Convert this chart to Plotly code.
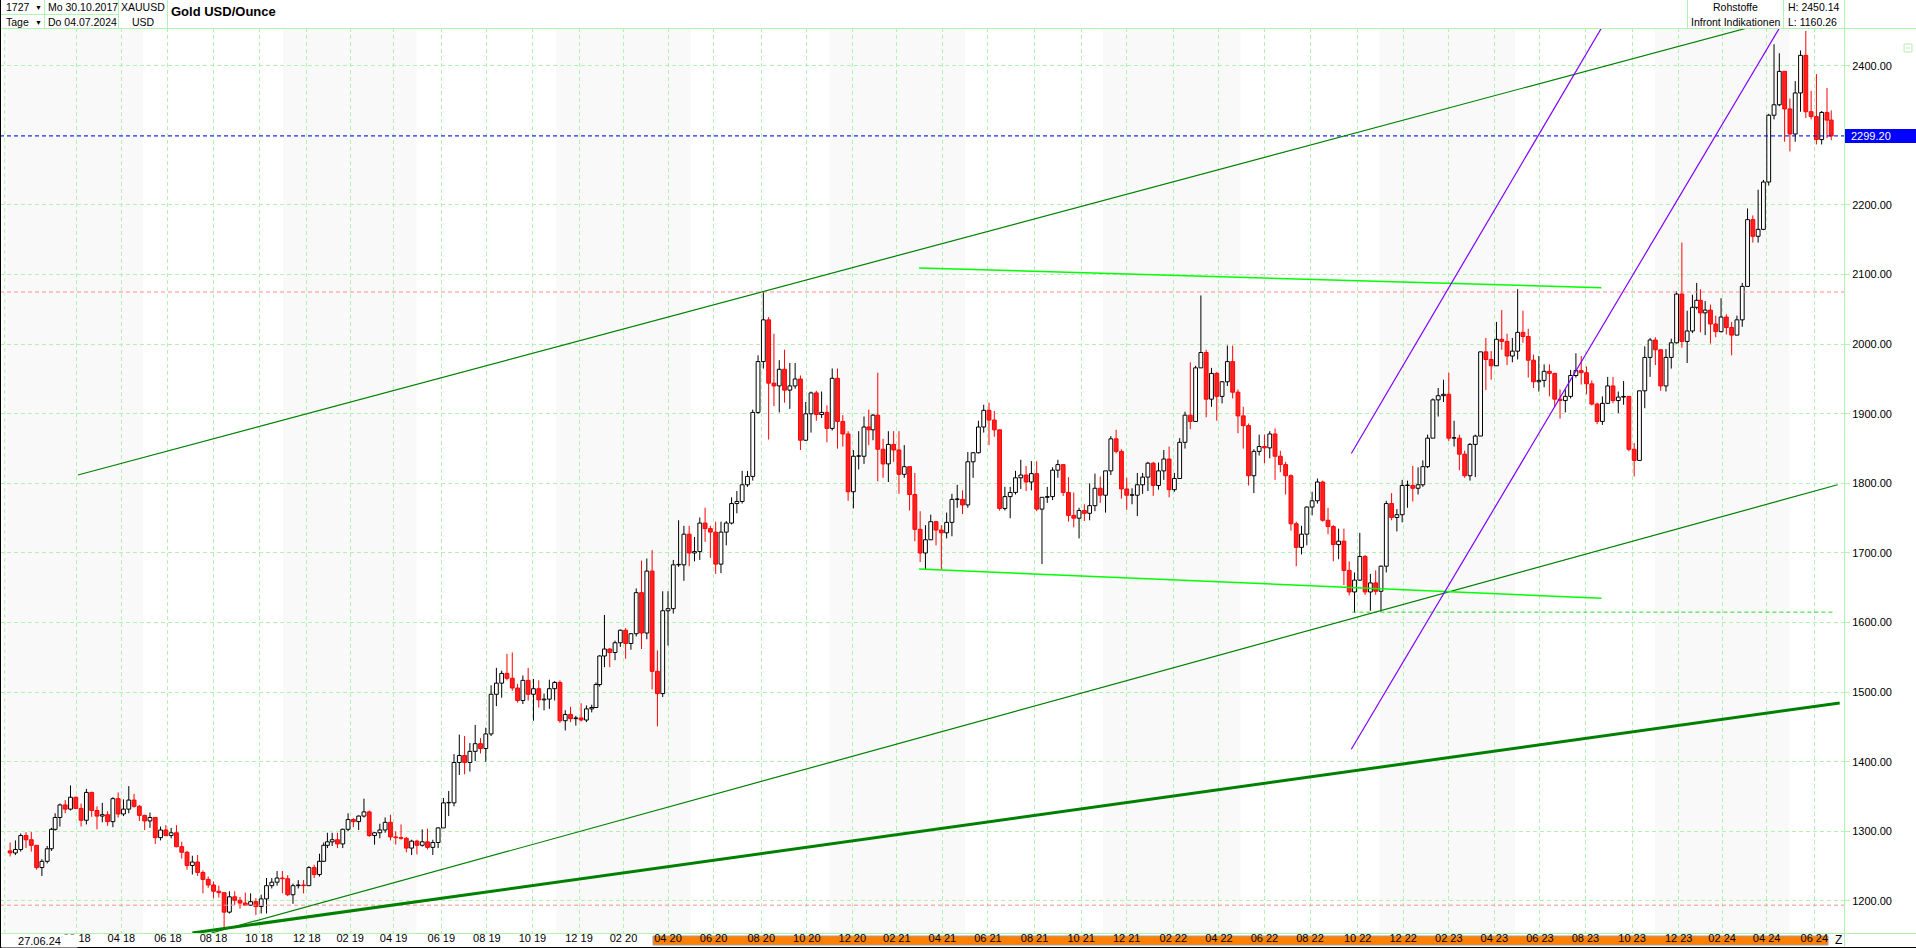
import pandas as pd
import numpy as np
import plotly.graph_objects as go

# ------------------------------------------------------------------
# DATA (weekly OHLC of XAU/USD, weeks starting Monday)
# ------------------------------------------------------------------
first_week = "2017-10-30"
last_session = "2024-06-26"

week_open = [
    1272, 1269, 1274, 1294, 1288, 1280, 1248, 1257, 1275,
    1303, 1320, 1338, 1332, 1349, 1333, 1316, 1356, 1330, 1322, 1324, 1314, 1347, 1325, 1332, 1345, 1336, 1323,
    1315, 1320, 1291, 1302, 1294, 1298, 1278, 1270, 1251, 1256, 1241, 1231, 1223, 1214, 1212, 1184, 1206,
    1201, 1197, 1194, 1199, 1192, 1203, 1222, 1227, 1233, 1232, 1209, 1222, 1223, 1222, 1248, 1238, 1257, 1280,
    1285, 1288, 1282, 1303, 1317, 1314, 1322, 1328, 1294, 1298, 1302, 1313, 1292, 1291, 1290, 1276, 1286,
    1280, 1285, 1277, 1284, 1305, 1341, 1341, 1399, 1409, 1399, 1415, 1426, 1419, 1440, 1497, 1513, 1527,
    1520, 1506, 1488, 1517, 1497, 1505, 1489, 1490, 1505, 1514, 1459, 1468, 1462, 1463, 1460, 1476, 1478, 1511,
    1552, 1562, 1557, 1571, 1589, 1570, 1584, 1643, 1585, 1674, 1530, 1498, 1617, 1620, 1683, 1683, 1727,
    1700, 1702, 1743, 1735, 1730, 1684, 1730, 1743, 1771, 1774, 1798, 1810, 1902, 1975, 2035, 1944, 1940, 1964,
    1934, 1940, 1950, 1862, 1900, 1930, 1899, 1902, 1879, 1951, 1889, 1871, 1788, 1839, 1839, 1881, 1877,
    1898, 1849, 1828, 1856, 1848, 1813, 1824, 1784, 1734, 1700, 1719, 1745, 1733, 1729, 1744, 1777, 1777,
    1769, 1831, 1844, 1881, 1905, 1891, 1877, 1764, 1781, 1787, 1808, 1812, 1802, 1814, 1763, 1780, 1781, 1819,
    1827, 1787, 1754, 1750, 1761, 1757, 1768, 1793, 1783, 1818, 1864, 1846, 1792, 1783, 1783, 1798, 1809,
    1829, 1797, 1818, 1835, 1791, 1807, 1859, 1898, 1889, 1966, 1988, 1921, 1958, 1925, 1946, 1975, 1931,
    1897, 1883, 1811, 1846, 1853, 1851, 1871, 1839, 1827, 1811, 1742, 1708, 1727, 1766, 1775, 1802, 1747, 1738,
    1712, 1717, 1675, 1644, 1661, 1695, 1644, 1657, 1645, 1681, 1771, 1751, 1755, 1797, 1797, 1793, 1798,
    1824, 1865, 1920, 1926, 1928, 1865, 1865, 1842, 1811, 1856, 1868, 1989, 1978, 1969, 2007, 2004, 1983,
    1990, 2017, 2011, 1977, 1946, 1948, 1961, 1958, 1921, 1919, 1925, 1955, 1962, 1959, 1943, 1914, 1889, 1915,
    1940, 1919, 1924, 1925, 1849, 1833, 1933, 1981, 2006, 1992, 1940, 1981, 2002, 2072, 2004, 2019, 2053,
    2063, 2045, 2049, 2029, 2018, 2039, 2024, 2013, 2035, 2083, 2179, 2155, 2165, 2233, 2329, 2344, 2392, 2338,
    2302, 2361, 2415, 2334, 2327, 2294, 2333, 2322,
]
week_high = [
    1284, 1287, 1297, 1299, 1299, 1280, 1260, 1279, 1305,
    1326, 1340, 1345, 1366, 1350, 1340, 1361, 1357, 1336, 1341, 1329, 1349, 1356, 1346, 1365, 1354, 1338, 1324,
    1327, 1320, 1307, 1309, 1305, 1309, 1285, 1272, 1265, 1266, 1244, 1235, 1228, 1222, 1212, 1214, 1214,
    1206, 1212, 1211, 1204, 1209, 1233, 1233, 1243, 1243, 1237, 1225, 1230, 1230, 1250, 1252, 1268, 1284, 1298,
    1298, 1298, 1304, 1326, 1319, 1323, 1347, 1330, 1299, 1311, 1320, 1324, 1300, 1310, 1292, 1288, 1288,
    1303, 1304, 1288, 1306, 1348, 1358, 1411, 1439, 1437, 1427, 1453, 1434, 1449, 1510, 1535, 1531, 1555,
    1557, 1512, 1524, 1535, 1519, 1517, 1498, 1518, 1516, 1517, 1474, 1479, 1466, 1484, 1481, 1482, 1514, 1553,
    1611, 1563, 1574, 1590, 1592, 1585, 1649, 1689, 1692, 1704, 1560, 1645, 1645, 1690, 1747, 1739, 1739,
    1723, 1751, 1765, 1739, 1745, 1745, 1746, 1780, 1789, 1818, 1818, 1906, 1984, 2075, 2039, 2015, 1977, 1992,
    1973, 1973, 1955, 1917, 1932, 1933, 1932, 1912, 1965, 1965, 1898, 1875, 1848, 1875, 1896, 1906, 1900,
    1959, 1864, 1875, 1875, 1875, 1855, 1824, 1815, 1760, 1740, 1755, 1746, 1740, 1758, 1785, 1798, 1790,
    1845, 1845, 1890, 1913, 1916, 1904, 1877, 1795, 1795, 1818, 1834, 1825, 1832, 1832, 1780, 1795, 1823, 1834,
    1827, 1809, 1787, 1765, 1770, 1800, 1814, 1810, 1818, 1868, 1877, 1849, 1808, 1793, 1815, 1815, 1831,
    1831, 1830, 1848, 1853, 1815, 1865, 1903, 1974, 1969, 2070, 1992, 1966, 1960, 1947, 1998, 1998, 1935,
    1910, 1886, 1849, 1870, 1870, 1875, 1879, 1847, 1831, 1813, 1745, 1739, 1767, 1788, 1807, 1804, 1765, 1740,
    1735, 1735, 1688, 1672, 1729, 1697, 1670, 1675, 1682, 1775, 1786, 1763, 1805, 1804, 1825, 1823, 1833,
    1870, 1922, 1937, 1949, 1959, 1890, 1870, 1847, 1858, 1870, 1989, 2009, 1990, 2032, 2049, 2015, 2009,
    2079, 2048, 2022, 1985, 1983, 1971, 1971, 1959, 1935, 1935, 1963, 1987, 1983, 1968, 1948, 1916, 1925, 1953,
    1953, 1932, 1947, 1925, 1858, 1933, 1997, 2009, 2010, 1992, 1993, 2008, 2076, 2146, 2048, 2071, 2088,
    2079, 2062, 2057, 2041, 2066, 2043, 2032, 2041, 2088, 2195, 2185, 2222, 2236, 2331, 2431, 2418, 2392, 2353,
    2378, 2422, 2450.14, 2364, 2388, 2335, 2368, 2336,
]
week_low = [
    1264, 1266, 1271, 1276, 1271, 1245, 1236, 1254, 1272,
    1301, 1307, 1326, 1330, 1332, 1307, 1310, 1321, 1303, 1313, 1308, 1306, 1320, 1322, 1326, 1334, 1315, 1302,
    1305, 1282, 1287, 1293, 1290, 1277, 1261, 1245, 1238, 1236, 1211, 1219, 1204, 1205, 1160.26, 1182, 1194,
    1189, 1193, 1193, 1180, 1182, 1182, 1218, 1222, 1211, 1207, 1196, 1218, 1211, 1222, 1233, 1235, 1256, 1276,
    1279, 1276, 1276, 1300, 1306, 1302, 1320, 1292, 1281, 1290, 1298, 1287, 1281, 1288, 1270, 1266, 1267,
    1278, 1274, 1266, 1276, 1305, 1322, 1336, 1381, 1382, 1386, 1401, 1412, 1400, 1437, 1480, 1492, 1517,
    1502, 1485, 1483, 1488, 1459, 1478, 1474, 1476, 1488, 1456, 1445, 1457, 1452, 1458, 1457, 1471, 1478, 1508,
    1536, 1536, 1546, 1565, 1548, 1561, 1580, 1562, 1576, 1504, 1451, 1493, 1567, 1613, 1680, 1660, 1681,
    1688, 1690, 1716, 1693, 1670, 1671, 1711, 1741, 1757, 1771, 1795, 1804, 1900, 1965, 1863, 1911, 1902, 1916,
    1907, 1936, 1848, 1861, 1873, 1890, 1894, 1859, 1876, 1850, 1853, 1775, 1764, 1820, 1828, 1855, 1862,
    1803, 1808, 1802, 1831, 1785, 1808, 1761, 1717, 1687, 1676, 1719, 1711, 1677, 1721, 1724, 1765, 1756,
    1765, 1808, 1843, 1873, 1855, 1867, 1761, 1761, 1750, 1784, 1792, 1789, 1790, 1760, 1684, 1772, 1776, 1808,
    1782, 1745, 1737, 1721, 1746, 1747, 1760, 1772, 1758, 1812, 1843, 1778, 1762, 1770, 1753, 1785, 1789,
    1782, 1791, 1805, 1780, 1788, 1807, 1850, 1878, 1889, 1966, 1895, 1910, 1890, 1915, 1940, 1922, 1872,
    1850, 1797, 1786, 1840, 1829, 1836, 1805, 1816, 1784, 1732, 1681, 1698, 1711, 1754, 1771, 1745, 1727, 1688,
    1691, 1654, 1639, 1614, 1660, 1640, 1617, 1640, 1616, 1672, 1747, 1731, 1744, 1765, 1774, 1784, 1795,
    1822, 1865, 1896, 1917, 1861, 1853, 1819, 1808, 1804, 1809, 1868, 1934, 1949, 1969, 1992, 1970, 1974,
    1978, 2002, 1952, 1937, 1932, 1938, 1925, 1910, 1893, 1902, 1922, 1952, 1942, 1928, 1912, 1885, 1884, 1914,
    1915, 1901, 1913, 1846, 1810, 1833, 1908, 1953, 1970, 1933, 1932, 1965, 2001, 1995, 1973, 2016, 2050,
    2017, 2013, 2001, 2010, 2017, 2014, 1984, 2013, 2025, 2083, 2146, 2146, 2164, 2228, 2323, 2342, 2291, 2277,
    2291, 2334, 2325, 2323, 2287, 2287, 2296, 2293,
]
week_close = [
    1269, 1274, 1294, 1288, 1280, 1248, 1257, 1275, 1303,
    1320, 1338, 1332, 1349, 1333, 1316, 1356, 1330, 1322, 1324, 1314, 1347, 1325, 1332, 1345, 1336, 1323, 1315,
    1320, 1291, 1302, 1294, 1298, 1278, 1270, 1251, 1256, 1241, 1231, 1223, 1214, 1212, 1184, 1206, 1201,
    1197, 1194, 1199, 1192, 1203, 1222, 1227, 1233, 1232, 1209, 1222, 1223, 1222, 1248, 1238, 1257, 1280, 1285,
    1288, 1282, 1303, 1317, 1314, 1322, 1328, 1294, 1298, 1302, 1313, 1292, 1291, 1290, 1276, 1286, 1280,
    1285, 1277, 1284, 1305, 1341, 1341, 1399, 1409, 1399, 1415, 1426, 1419, 1440, 1497, 1513, 1527, 1520,
    1506, 1488, 1517, 1497, 1505, 1489, 1490, 1505, 1514, 1459, 1468, 1462, 1463, 1460, 1476, 1478, 1511, 1552,
    1562, 1557, 1571, 1589, 1570, 1584, 1643, 1585, 1674, 1530, 1498, 1617, 1620, 1683, 1683, 1727, 1700,
    1702, 1743, 1735, 1730, 1684, 1730, 1743, 1771, 1774, 1798, 1810, 1902, 1975, 2035, 1944, 1940, 1964, 1934,
    1940, 1950, 1862, 1900, 1930, 1899, 1902, 1879, 1951, 1889, 1871, 1788, 1839, 1839, 1881, 1877, 1898,
    1849, 1828, 1856, 1848, 1813, 1824, 1784, 1734, 1700, 1719, 1745, 1733, 1729, 1744, 1777, 1777, 1769,
    1831, 1844, 1881, 1905, 1891, 1877, 1764, 1781, 1787, 1808, 1812, 1802, 1814, 1763, 1780, 1781, 1819, 1827,
    1787, 1754, 1750, 1761, 1757, 1768, 1793, 1783, 1818, 1864, 1846, 1792, 1783, 1783, 1798, 1809, 1829,
    1797, 1818, 1835, 1791, 1807, 1859, 1898, 1889, 1966, 1988, 1921, 1958, 1925, 1946, 1975, 1931, 1897,
    1883, 1811, 1846, 1853, 1851, 1871, 1839, 1827, 1811, 1742, 1708, 1727, 1766, 1775, 1802, 1747, 1738, 1712,
    1717, 1675, 1644, 1661, 1695, 1644, 1657, 1645, 1681, 1771, 1751, 1755, 1797, 1797, 1793, 1798, 1824,
    1865, 1920, 1926, 1928, 1865, 1865, 1842, 1811, 1856, 1868, 1989, 1978, 1969, 2007, 2004, 1983, 1990,
    2017, 2011, 1977, 1946, 1948, 1961, 1958, 1921, 1919, 1925, 1955, 1962, 1959, 1943, 1914, 1889, 1915, 1940,
    1919, 1924, 1925, 1849, 1833, 1933, 1981, 2006, 1992, 1940, 1981, 2002, 2072, 2004, 2019, 2053, 2063,
    2045, 2049, 2029, 2018, 2039, 2024, 2013, 2035, 2083, 2179, 2155, 2165, 2233, 2329, 2344, 2392, 2338, 2302,
    2361, 2415, 2334, 2327, 2294, 2333, 2322, 2299.20,
]

holidays = ["2017-12-25", "2017-12-26", "2018-01-01", "2018-12-25", "2018-12-26",
            "2019-01-01", "2019-12-25", "2019-12-26", "2020-01-01", "2020-12-25",
            "2021-01-01", "2022-12-26", "2023-12-25", "2023-12-26", "2024-01-01"]

price_ticks = [1200, 1300, 1400, 1500, 1600, 1700, 1800, 1900, 2000, 2100, 2200, 2300, 2400]
last_price = 2299.20
hi_price = 2450.14
lo_price = 1160.26
resist_2075 = 2075
support_1194 = 1194
support_1615 = 1615

# drawn trend lines: (date0, price0, date1, price1)
line_upper = ("2018-02-02", 1812, "2024-03-05", 2454)
line_lower_thin = ("2018-07-30", 1154, "2024-07-03", 1798)
line_lower_thick = ("2018-07-04", 1154, "2024-07-05", 1484.5)
line_lime_top = ("2021-03-02", 2109.5, "2023-08-22", 2081)
line_lime_bottom = ("2021-03-02", 1677, "2023-08-22", 1635)
line_purple_a = ("2022-09-23", 1843, "2023-08-22", 2454)
line_purple_b = ("2022-09-23", 1418, "2024-04-17", 2454)
line_1615_span = ("2022-09-26", "2024-07-01")

winter_bands = [("2017-10-01", "2018-05-01"), ("2018-11-01", "2019-05-01"),
                ("2019-11-01", "2020-05-01"), ("2020-11-01", "2021-05-01"),
                ("2021-11-01", "2022-05-01"), ("2022-11-01", "2023-05-01"),
                ("2023-11-01", "2024-05-01")]

# ------------------------------------------------------------------
# trading-day calendar (x axis = trading day number)
# ------------------------------------------------------------------
cal = pd.bdate_range(first_week, "2024-08-30")
cal = cal[~cal.isin(pd.to_datetime(holidays))]
end = pd.Timestamp(last_session)


def pos(d):
    return float(cal.searchsorted(pd.Timestamp(d)))


weeks = pd.date_range(first_week, periods=len(week_close), freq="7D")
wx = []
for ws in weeks:
    mask = (cal >= ws) & (cal <= ws + pd.Timedelta(days=4)) & (cal <= end)
    idx = np.nonzero(mask)[0]
    wx.append(float(idx.mean()))

tickvals, ticktext = [], []
for yr in range(2018, 2025):
    for m in range(2, 13, 2):
        d = pd.Timestamp(yr, m, 1)
        if d > end:
            break
        tickvals.append(pos(d))
        ticktext.append(f"{m:02d} {yr % 100:02d}")

# ------------------------------------------------------------------
FONT = "Liberation Sans, Arial, sans-serif"
GRID = "#b2f2b2"
X0, X1 = -7.55, 1733.05
Y0, Y1 = 1154.0, 2454.3
PW, PH, TOP = 1844.0, 905.0, 28.0

fig = go.Figure()

# candles: bodies + wicks
for up, color, fill in ((True, "#000000", "#ffffff"), (False, "#ff0000", "#ff2020")):
    bx, bbase, bh, wxs, wys = [], [], [], [], []
    for x, o, h, l, c in zip(wx, week_open, week_high, week_low, week_close):
        if (c >= o) != up:
            continue
        top, bot = max(o, c), min(o, c)
        bx.append(x)
        bbase.append(bot)
        bh.append(max(top - bot, 0.6))
        wxs += [x, x, None, x, x, None]
        wys += [h, top, None, bot, l, None]
    fig.add_trace(go.Scatter(x=wxs, y=wys, mode="lines", line=dict(color=color, width=1),
                             hoverinfo="skip", showlegend=False))
    fig.add_trace(go.Bar(x=bx, y=bh, base=bbase, width=3.6,
                         marker=dict(color=fill, line=dict(color=color, width=1)),
                         hoverinfo="skip", showlegend=False))

shapes = []
# winter background bands
for a, b in winter_bands:
    shapes.append(dict(type="rect", xref="x", yref="paper", x0=max(pos(a) - 0.5, X0), x1=pos(b) - 0.5,
                       y0=0, y1=1, fillcolor="#f9f9f9", line=dict(width=0), layer="below"))
# extra first grid line at start
shapes.append(dict(type="line", xref="x", yref="paper", x0=X0 + 4.5, x1=X0 + 4.5, y0=0, y1=1,
                   line=dict(color=GRID, width=1, dash="4px,3px"), layer="below"))

# horizontal reference lines
for p, col in ((resist_2075, "#ff8c8c"), (support_1194, "#ff8c8c"), (last_price, "#0000ff")):
    shapes.append(dict(type="line", xref="paper", yref="y", x0=0, x1=1, y0=p, y1=p,
                       line=dict(color=col, width=1, dash="4px,3px")))
shapes.append(dict(type="line", xref="x", yref="y", x0=pos(line_1615_span[0]), x1=pos(line_1615_span[1]),
                   y0=support_1615, y1=support_1615, line=dict(color="#22dd22", width=1, dash="4px,3px")))


def tline(spec, color, width):
    d0, p0, d1, p1 = spec
    shapes.append(dict(type="line", xref="x", yref="y", x0=pos(d0), y0=p0, x1=pos(d1), y1=p1,
                       line=dict(color=color, width=width)))


tline(line_upper, "#008000", 1.2)
tline(line_lower_thin, "#008000", 1.2)
tline(line_lower_thick, "#008000", 3)
tline(line_lime_top, "#00ff00", 1.5)
tline(line_lime_bottom, "#00ff00", 1.5)
tline(line_purple_a, "#8000ff", 1.2)
tline(line_purple_b, "#8000ff", 1.2)


def ax(px):
    return px / PW


def ay(py):
    return (TOP + PH - py) / PH


def pline(x0, y0, x1, y1, color, width=1):
    shapes.append(dict(type="line", xref="paper", yref="paper", x0=ax(x0), y0=ay(y0), x1=ax(x1), y1=ay(y1),
                       line=dict(color=color, width=width)))


# frame / header lines
pline(0, 28.5, 1916, 28.5, GRID)
pline(0, 933.5, 1916, 933.5, GRID)
pline(1844.5, 0, 1844.5, 948, GRID)
for xv in (44.5, 118.5, 167.5, 1687.5, 1783.5):
    pline(xv, 0, xv, 28, GRID)
pline(0, 14.5, 118, 14.5, GRID)
pline(0.5, 0, 0.5, 948, "#000000")
pline(0, 947.5, 1916, 947.5, "#000000")
# orange date band
shapes.append(dict(type="rect", xref="paper", yref="paper", x0=ax(653), x1=ax(1828), y0=ay(945), y1=ay(936),
                   fillcolor="#ff8000", line=dict(color="#a0a0a0", width=1), layer="below"))
# current price box
shapes.append(dict(type="rect", xref="paper", yref="paper", x0=ax(1845), x1=ax(1916),
                   y0=(last_price - Y0) / (Y1 - Y0) - 7 / PH, y1=(last_price - Y0) / (Y1 - Y0) + 7 / PH,
                   fillcolor="#0000ff", line=dict(width=0)))
# small collapse icon
shapes.append(dict(type="rect", xref="paper", yref="paper", x0=ax(1904), x1=ax(1912), y0=ay(52), y1=ay(44),
                   fillcolor="white", line=dict(color=GRID, width=1)))
pline(1906, 48, 1910, 48, GRID)

ann = []


def text(px, py, s, anchor="left", size=10.5, bold=False, color="#000000", **kw):
    ann.append(dict(x=ax(px), y=ay(py), xref="paper", yref="paper", text=f"<b>{s}</b>" if bold else s,
                    showarrow=False, xanchor=anchor, yanchor="middle",
                    font=dict(family=FONT, size=size, color=color), **kw))


text(4, 7.5, "1727")
text(33, 7.5, "▼", size=7)
text(4, 22, "Tage")
text(33, 22, "▼", size=7)
text(46, 7.5, "Mo 30.10.2017")
text(46, 22, "Do 04.07.2024")
text(143, 7.5, "XAUUSD", anchor="center")
text(143, 22, "USD", anchor="center")
text(169, 11.5, "Gold USD/Ounce", size=13, bold=True)
text(1735, 7.5, "Rohstoffe", anchor="center")
text(1735, 22, "Infront Indikationen", anchor="center")
text(1786, 7.5, f"H: {hi_price:.2f}")
text(1786, 22, f"L: {lo_price:.2f}")
text(1, 940.5, "27.06.24", size=11, bgcolor="white", width=75, borderpad=0)
text(1838, 940, "Z", anchor="center", size=12)
ann.append(dict(x=ax(1849), y=last_price, xref="paper", yref="y", text=f"{last_price:.2f}",
                showarrow=False, xanchor="left", yanchor="middle",
                font=dict(family=FONT, size=11, color="white")))

fig.update_layout(
    width=1916, height=948,
    margin=dict(l=0, r=72, t=28, b=15),
    paper_bgcolor="white", plot_bgcolor="white",
    barmode="overlay", showlegend=False,
    font=dict(family=FONT, size=11, color="#000000"),
    shapes=shapes, annotations=ann,
    xaxis=dict(range=[X0, X1], tickmode="array", tickvals=tickvals, ticktext=ticktext,
               showgrid=True, gridcolor=GRID, gridwidth=1, griddash="4px,3px",
               zeroline=False, showline=False, ticks="", ticklen=0, ticklabelstandoff=-3,
               tickfont=dict(family=FONT, size=11, color="#000000"), fixedrange=True,
               rangeslider=dict(visible=False)),
    yaxis=dict(range=[Y0, Y1], side="right", tickmode="array", tickvals=price_ticks,
               ticktext=[f"{v:.2f}" for v in price_ticks],
               showgrid=True, gridcolor=GRID, gridwidth=1, griddash="4px,3px",
               zeroline=False, showline=False, ticks="outside", ticklen=5, tickcolor=GRID,
               tickfont=dict(family=FONT, size=11, color="#000000"), fixedrange=True),
)

fig.write_html("out.html", config={"displayModeBar": False},
               post_script="document.body.style.margin='0';document.body.style.padding='0';"
                           "document.body.style.overflow='hidden';")
